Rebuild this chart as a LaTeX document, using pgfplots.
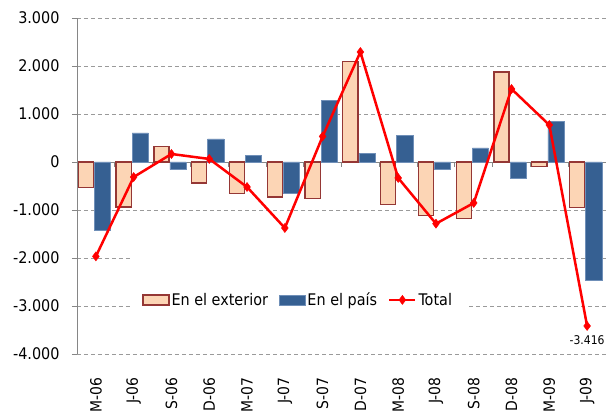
\documentclass[border=0pt]{standalone}
\usepackage{pgfplots}
\pgfplotsset{compat=1.18}
\usepackage{fontspec}
\setmainfont{DejaVu Sans Condensed}
\definecolor{ext}{HTML}{FCD5B5}
\definecolor{extb}{HTML}{953735}
\definecolor{pais}{HTML}{366092}
\definecolor{paisb}{HTML}{6F8FB8}
\definecolor{axgray}{HTML}{868686}
\definecolor{gridgray}{HTML}{9A9A9A}
\pgfplotsset{
  barleg/.style={legend image code/.code={\draw[##1] (0pt,-5pt) rectangle (26pt,5pt);}},
  lineleg/.style={legend image code/.code={\draw[mark repeat=2, mark phase=2, ##1] plot coordinates {(0pt,0pt) (13pt,0pt) (26pt,0pt)};}},
}
\begin{document}
\begin{tikzpicture}
\begin{axis}[name=ax, scale only axis, width=529pt, height=336pt,
  xmin=-0.5, xmax=13.5, ymin=-4000, ymax=3000,
  axis x line*=bottom, axis y line*=left,
  x axis line style={draw=none},
  y axis line style={-, axgray, line width=0.8pt},
  xtick={0,...,13},
  xticklabels={M-06,J-06,S-06,D-06,M-07,J-07,S-07,D-07,M-08,J-08,S-08,D-08,M-09,J-09},
  xtick style={draw=none},
  xticklabel style={yshift=-15pt, rotate=90, anchor=east, font=\fontsize{15.5}{18}\selectfont},
  ytick={-4000,-3000,...,3000},
  scaled y ticks=false,
  /pgf/number format/1000 sep={.},
  /pgf/number format/assume math mode=true,
  yticklabel style={font=\fontsize{16}{19}\selectfont, xshift=-9pt},
  ytick style={axgray, line width=0.8pt},
  tick align=outside, major tick length=5pt,
  ymajorgrids, grid style={gridgray, line width=0.8pt, dash pattern=on 4pt off 3pt},
  legend columns=3,
  legend style={at={(0.418,0.161)}, anchor=center, draw=none, fill=none,
    font=\fontsize{16}{19}\selectfont,
    /tikz/every even column/.append style={column sep=9pt}},
]
\draw[axgray, line width=0.8pt] (axis cs:-0.5,0) -- (axis cs:13.5,0);
\pgfplotsinvokeforeach{-0.5,0.5,1.5,2.5,3.5,4.5,5.5,6.5,7.5,8.5,9.5,10.5,11.5,12.5,13.5}{
  \draw[axgray, line width=0.8pt] (axis cs:#1,0) -- ++(0pt,-5pt);
}
\addplot[ybar, bar width=15.2pt, bar shift=-10pt, fill=ext, draw=extb, line width=1.3pt, barleg]
  coordinates {(0,-529) (1,-938) (2,325) (3,-438) (4,-660) (5,-729) (6,-758) (7,2096) (8,-890) (9,-1119) (10,-1174) (11,1875) (12,-90) (13,-945)};
\addlegendentry{En el exterior}
\addplot[ybar, bar width=16.2pt, bar shift=6.6pt, fill=pais, draw=paisb, line width=0.5pt, barleg]
  coordinates {(0,-1431) (1,604) (2,-160) (3,479) (4,131) (5,-646) (6,1283) (7,173) (8,548) (9,-160) (10,292) (11,-333) (12,840) (13,-2473)};
\addlegendentry{En el país}
\addplot[red, line width=2.5pt, sharp plot, mark=diamond*, mark size=4.5pt, mark options={solid, fill=red, line width=0.5pt}, lineleg]
  coordinates {(0,-1966) (1,-313) (2,167) (3,63) (4,-521) (5,-1375) (6,533) (7,2292) (8,-333) (9,-1285) (10,-854) (11,1521) (12,771) (13,-3416)};
\addlegendentry{Total}
\fill[white] (rel axis cs:0.1,0.128) rectangle (rel axis cs:0.737,0.304);
\node[font=\fontsize{12}{12}\selectfont, anchor=north, inner sep=1pt] at (axis cs:13,-3416) [yshift=-8pt] {-3.416};
\end{axis}
\pgfresetboundingbox
\path[use as bounding box] ([xshift=-77pt,yshift=-59pt]ax.south west) rectangle ([yshift=18pt]ax.north east);
\end{tikzpicture}
\end{document}
